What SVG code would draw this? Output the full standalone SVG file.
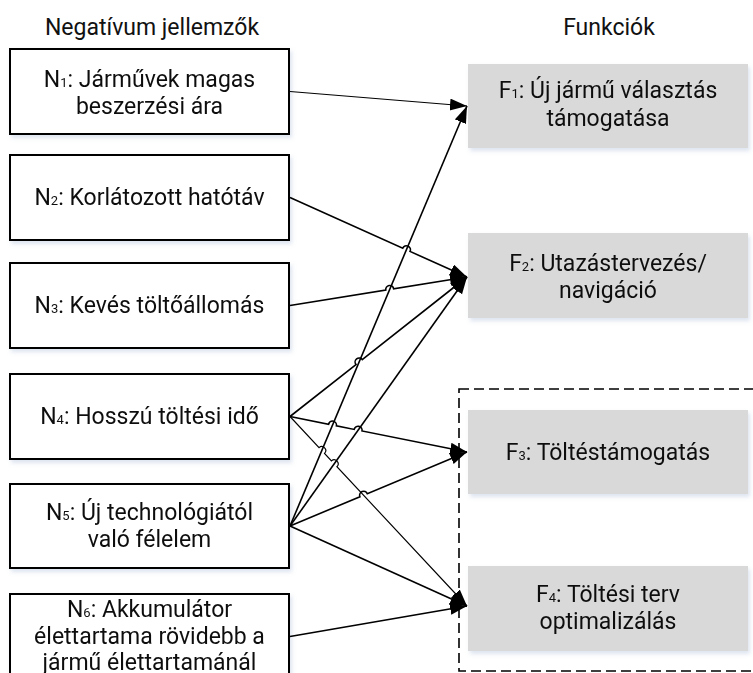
<svg xmlns="http://www.w3.org/2000/svg" width="753" height="673" viewBox="0 0 753 673">
  <style>
    text { font-family: Roboto, "Liberation Sans", "DejaVu Sans", sans-serif; font-size: 23px; fill: #111111; text-anchor: middle; }
    .sub { font-size: 13px; }
    .neg { fill: #ffffff; stroke: #000000; stroke-width: 2; }
    .fun { fill: #d9d9d9; stroke: none; }
    .link { fill: none; stroke: #000000; stroke-width: 1.6; marker-end: url(#arrow); }
    .thin { stroke-width: 1.15; }
    .group { fill: none; stroke: #000000; stroke-width: 1.6; stroke-dasharray: 10 5; }
  </style>
  <defs>
    <filter id="shadow" x="-10%" y="-10%" width="120%" height="130%">
      <feDropShadow dx="2" dy="3" stdDeviation="2" flood-color="#9fb3d1" flood-opacity="0.35"/>
    </filter>
    <marker id="arrow" markerUnits="userSpaceOnUse" markerWidth="18" markerHeight="13" refX="17" refY="6" orient="auto">
      <path d="M0,0 L17,6 L0,12 z" fill="#000000"/>
    </marker>
  </defs>

  <rect width="753" height="673" fill="#ffffff"/>

  <!-- column headings -->
  <text x="152" y="35">Negatívum jellemzők</text>
  <text x="609" y="35">Funkciók</text>

  <!-- dashed frame around the charging-related functions -->
  <g id="charging-frame">
    <rect class="group" x="459" y="389" width="320" height="282"/>
  </g>

  <!-- negative characteristics -->
  <g id="N1" filter="url(#shadow)">
    <rect class="neg" x="10" y="49" width="279" height="85"/>
    <text x="149.5" y="87">N<tspan class="sub">1</tspan>: Járművek magas</text>
    <text x="149.5" y="114">beszerzési ára</text>
  </g>
  <g id="N2" filter="url(#shadow)">
    <rect class="neg" x="10" y="155" width="279" height="85"/>
    <text x="149.5" y="205">N<tspan class="sub">2</tspan>: Korlátozott hatótáv</text>
  </g>
  <g id="N3" filter="url(#shadow)">
    <rect class="neg" x="10" y="263" width="279" height="85"/>
    <text x="149.5" y="313">N<tspan class="sub">3</tspan>: Kevés töltőállomás</text>
  </g>
  <g id="N4" filter="url(#shadow)">
    <rect class="neg" x="10" y="374" width="279" height="85"/>
    <text x="149.5" y="424">N<tspan class="sub">4</tspan>: Hosszú töltési idő</text>
  </g>
  <g id="N5" filter="url(#shadow)">
    <rect class="neg" x="10" y="484" width="279" height="84"/>
    <text x="149.5" y="520">N<tspan class="sub">5</tspan>: Új technológiától</text>
    <text x="149.5" y="547">való félelem</text>
  </g>
  <g id="N6" filter="url(#shadow)">
    <rect class="neg" x="10" y="594" width="279" height="90"/>
    <text x="149.5" y="617">N<tspan class="sub">6</tspan>: Akkumulátor</text>
    <text x="149.5" y="644">élettartama rövidebb a</text>
    <text x="149.5" y="670">jármű élettartamánál</text>
  </g>

  <!-- functions -->
  <g id="F1" filter="url(#shadow)">
    <rect class="fun" x="468" y="64" width="280" height="84"/>
    <text x="608" y="98">F<tspan class="sub">1</tspan>: Új jármű választás</text>
    <text x="608" y="126">támogatása</text>
  </g>
  <g id="F2" filter="url(#shadow)">
    <rect class="fun" x="468" y="233" width="280" height="85"/>
    <text x="608" y="271">F<tspan class="sub">2</tspan>: Utazástervezés/</text>
    <text x="608" y="298">navigáció</text>
  </g>
  <g id="F3" filter="url(#shadow)">
    <rect class="fun" x="468" y="410" width="280" height="84"/>
    <text x="608" y="460">F<tspan class="sub">3</tspan>: Töltéstámogatás</text>
  </g>
  <g id="F4" filter="url(#shadow)">
    <rect class="fun" x="468" y="566" width="280" height="85"/>
    <text x="608" y="602">F<tspan class="sub">4</tspan>: Töltési terv</text>
    <text x="608" y="629">optimalizálás</text>
  </g>

  <!-- connectors (line jumps where one connector crosses another) -->
  <g id="connectors">
    <path class="link thin" d="M290,91.5 L467,106"/>
    <path class="link" d="M290,197.5 L402.75,248.16 A4,4 0 0 1 410.05,251.44 L467,277"/>
    <path class="link" d="M290,305.5 L385.75,290.09 A4,4 0 0 1 393.65,288.81 L467,277"/>
    <path class="link" d="M290,416.5 L355.96,364.53 A4,4 0 0 1 362.24,359.57 L467,277"/>
    <path class="link" d="M290,416.5 L328.58,424.21 A4,4 0 0 1 336.42,425.79 L354.18,429.41 A4,4 0 0 1 362.02,430.99 L467,452"/>
    <path class="link thin" d="M290,416.5 L319.07,447.58 A4,4 0 0 1 324.53,453.42 L331.47,460.88 A4,4 0 0 1 336.93,466.72 L467,606"/>
    <path class="link" d="M290,526 L467,106"/>
    <path class="link" d="M290,526 L467,277"/>
    <path class="link" d="M290,526 L359.91,496.74 A4,4 0 0 1 367.29,493.66 L467,452"/>
    <path class="link" d="M290,526 L467,606"/>
    <path class="link" d="M290,636.5 L467,606"/>
  </g>
</svg>
